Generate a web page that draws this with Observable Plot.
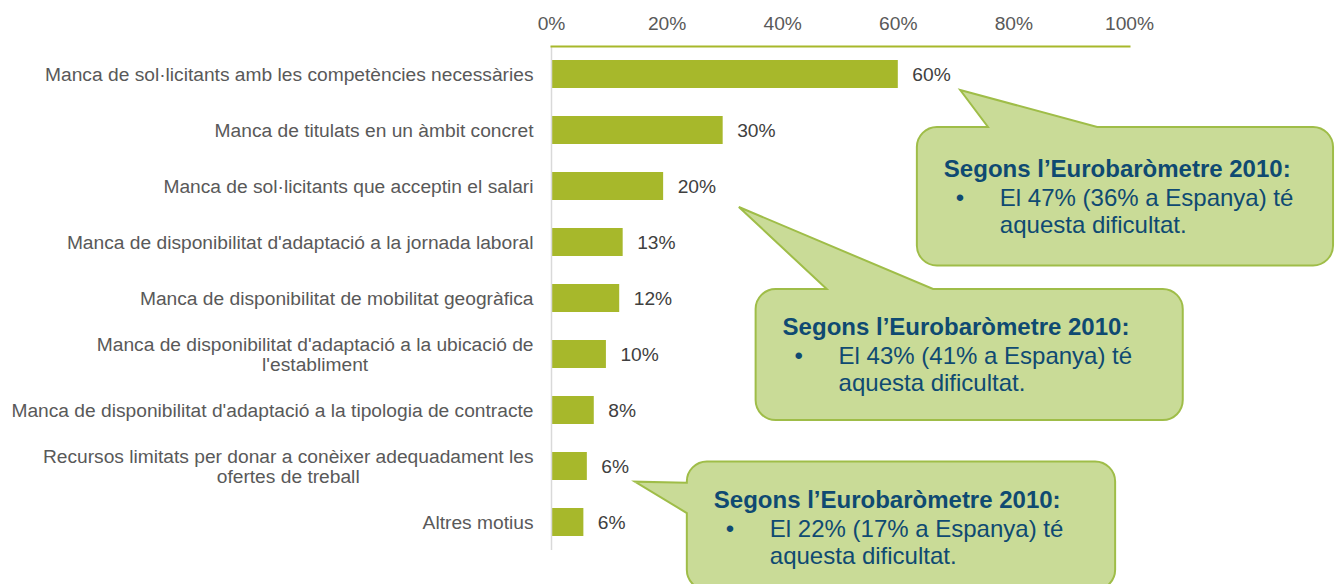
<!DOCTYPE html>
<html>
<head>
<meta charset="utf-8">
<script src="https://cdn.jsdelivr.net/npm/d3@7"></script>
<script src="https://cdn.jsdelivr.net/npm/@observablehq/plot@0.6"></script>
<style>
  html, body { margin: 0; padding: 0; background: #ffffff; }
  svg { display: block; }
</style>
</head>
<body>
<div id="chart"></div>
<script>
// ---- data ----
const categories = [
  "Manca de sol·licitants amb les competències necessàries",
  "Manca de titulats en un àmbit concret",
  "Manca de sol·licitants que acceptin el salari",
  "Manca de disponibilitat d'adaptació a la jornada laboral",
  "Manca de disponibilitat de mobilitat geogràfica",
  "Manca de disponibilitat d'adaptació a la ubicació de\nl'establiment",
  "Manca de disponibilitat d'adaptació a la tipologia de contracte",
  "Recursos limitats per donar a conèixer adequadament les\nofertes de treball",
  "Altres motius"
];
const values = [60, 29.7, 19.4, 12.4, 11.8, 9.5, 7.4, 6.2, 5.6];
const valueLabels = ["60%", "30%", "20%", "13%", "12%", "10%", "8%", "6%", "6%"];
const xTicks = [0, 20, 40, 60, 80, 100];
const xTickLabels = ["0%", "20%", "40%", "60%", "80%", "100%"];

const calloutTitles = [
  "Segons l’Eurobaròmetre 2010:",
  "Segons l’Eurobaròmetre 2010:",
  "Segons l’Eurobaròmetre 2010:"
];
const calloutLines = [
  ["El 47% (36% a Espanya) té", "aquesta dificultat."],
  ["El 43% (41% a Espanya) té", "aquesta dificultat."],
  ["El 22% (17% a Espanya) té", "aquesta dificultat."]
];

const data = categories.map((c, i) => ({cat: c, value: values[i], label: valueLabels[i]}));

// ---- styles ----
const barColor = "#a7b82b";
const font = "'Liberation Sans', Arial, sans-serif";

const plot = Plot.plot({
  width: 1335,
  height: 584,
  marginLeft: 551,
  marginRight: 206,
  marginTop: 46,
  marginBottom: 34,
  style: {fontFamily: font, fontSize: "19.2px", background: "#ffffff", overflow: "visible"},
  x: {domain: [0, 100], axis: null},
  y: {domain: categories, paddingInner: 0.5, paddingOuter: 0.25, axis: null},
  marks: [
    Plot.barX(data, {x: "value", y: "cat", fill: barColor, insetLeft: 1}),
    Plot.ruleX([0], {stroke: "#d9d9d9", strokeWidth: 1.5}),
    Plot.frame({anchor: "top", stroke: barColor, strokeWidth: 2}),
    Plot.text(xTicks, {x: d => d, text: (d, i) => xTickLabels[i], frameAnchor: "top", dy: -17, lineAnchor: "bottom", fill: "#595959"}),
    Plot.text(data, {x: "value", y: "cat", text: "label", dx: 14, textAnchor: "start", fill: "#404040"}),
    Plot.text(categories, {y: d => d, text: d => d, frameAnchor: "left", dx: -18, textAnchor: "end", lineHeight: 1.05, fill: "#595959"})
  ]
});

document.getElementById("chart").appendChild(plot);

// centre the lines of two-line category labels under their first line
d3.select(plot).selectAll("text").each(function() {
  const tspans = this.querySelectorAll("tspan");
  if (tspans.length > 1) {
    let w = 0;
    tspans.forEach(t => { w = Math.max(w, t.getComputedTextLength()); });
    this.setAttribute("text-anchor", "middle");
    tspans.forEach(t => t.setAttribute("x", -w / 2));
  }
});

// ---- callouts, placed in data space (x in %, y in row units) ----
const xs = plot.scale("x");
const ys = plot.scale("y");
const px = p => xs.apply(p);
const rowY = r => ys.apply(categories[0]) - (ys.step - ys.bandwidth) / 2 + r * ys.step;

const callouts = [
  {x0: 63.3, x1: 135.3, y0: 1.446, y1: 3.92, side: "top", a: 75.6, b: 94.5, tx: 70.8, ty: 0.786, textTop: 50},
  {x0: 35.4, x1: 109.3, y0: 4.34, y1: 6.68, side: "top", a: 47.7, b: 66.1, tx: 32.5, ty: 2.875, textTop: 46},
  {x0: 23.5, x1: 97.6, y0: 7.42, y1: 9.71, side: "left", a: 7.80, b: 8.34, tx: 14.5, ty: 7.78, textTop: 46}
];

const g = d3.select(plot).append("g").attr("text-anchor", "start");
callouts.forEach((c, i) => {
  const x0 = px(c.x0), x1 = px(c.x1), y0 = rowY(c.y0), y1 = rowY(c.y1);
  const tx = px(c.tx), ty = rowY(c.ty);
  const r = 20;
  let d = `M${x0 + r},${y0}`;
  if (c.side === "top") d += ` L${px(c.a)},${y0} L${tx},${ty} L${px(c.b)},${y0}`;
  d += ` L${x1 - r},${y0} A${r},${r} 0 0 1 ${x1},${y0 + r}`;
  d += ` L${x1},${y1 - r} A${r},${r} 0 0 1 ${x1 - r},${y1}`;
  d += ` L${x0 + r},${y1} A${r},${r} 0 0 1 ${x0},${y1 - r}`;
  if (c.side === "left") d += ` L${x0},${rowY(c.b)} L${tx},${ty} L${x0},${rowY(c.a)}`;
  d += ` L${x0},${y0 + r} A${r},${r} 0 0 1 ${x0 + r},${y0} Z`;
  g.append("path").attr("d", d).attr("fill", "#c9db97").attr("stroke", "#9fbd48").attr("stroke-width", 2);

  const textColor = "#0f4a72";
  const ty0 = y0 + c.textTop;
  g.append("text").attr("x", x0 + 27).attr("y", ty0)
    .attr("font-family", font).attr("font-size", 24).attr("font-weight", "bold")
    .attr("fill", textColor).text(calloutTitles[i]);
  g.append("text").attr("x", x0 + 39).attr("y", ty0 + 29)
    .attr("font-family", font).attr("font-size", 24)
    .attr("fill", textColor).text("•");
  calloutLines[i].forEach((line, j) => {
    g.append("text").attr("x", x0 + 83).attr("y", ty0 + 29 + j * 27)
      .attr("font-family", font).attr("font-size", 24)
      .attr("fill", textColor).text(line);
  });
});
</script>
</body>
</html>
